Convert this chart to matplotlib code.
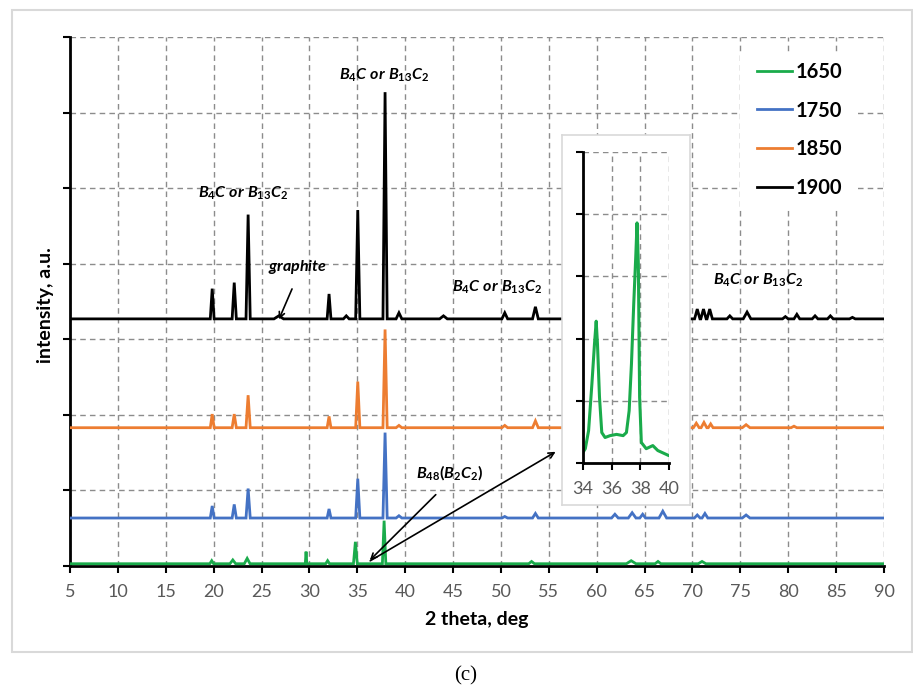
import matplotlib
matplotlib.use('Agg')
import matplotlib.pyplot as plt
from matplotlib.patches import Rectangle
from matplotlib.lines import Line2D

plt.rcParams['font.family'] = ['Lato', 'DejaVu Sans']
plt.rcParams['mathtext.fontset'] = 'custom'
plt.rcParams['mathtext.it'] = 'Lato:italic:bold'
plt.rcParams['mathtext.rm'] = 'Lato:bold'

# stacked XRD traces: baseline and peaks (2theta, height, half-width)
labels = ['1650', '1750', '1850', '1900']
colors = ['#1aab4b', '#4472c4', '#ed7d31', 'black']
baselines = [0.03, 0.635, 1.83, 3.27]

green_peaks = [(19.8, 0.04, 0.2), (22.0, 0.05, 0.3), (23.5, 0.07, 0.3), (29.65, 0.16, 0.08),
               (31.9, 0.04, 0.2), (34.8, 0.29, 0.2), (37.8, 0.57, 0.18), (53.2, 0.03, 0.3),
               (63.6, 0.04, 0.5), (66.4, 0.03, 0.3), (71.0, 0.03, 0.4)]
blue_peaks = [(19.85, 0.16, 0.2), (22.15, 0.18, 0.22), (23.6, 0.39, 0.22), (32.05, 0.12, 0.2),
              (35.05, 0.52, 0.22), (37.9, 1.13, 0.22), (39.35, 0.03, 0.3), (50.4, 0.02, 0.3),
              (53.6, 0.06, 0.3), (61.9, 0.05, 0.35), (63.7, 0.07, 0.4), (64.8, 0.05, 0.3),
              (66.9, 0.09, 0.4), (70.5, 0.04, 0.3), (71.3, 0.06, 0.3), (75.6, 0.04, 0.4)]
orange_peaks = [(19.85, 0.18, 0.2), (22.15, 0.18, 0.22), (23.6, 0.43, 0.22), (32.05, 0.15, 0.2),
                (35.05, 0.61, 0.22), (37.9, 1.30, 0.22), (39.35, 0.03, 0.3), (50.4, 0.03, 0.3),
                (53.6, 0.09, 0.3), (70.4, 0.06, 0.3), (71.2, 0.07, 0.3), (71.9, 0.05, 0.25),
                (75.6, 0.04, 0.4), (80.6, 0.02, 0.3)]
black_peaks = [(19.85, 0.40, 0.2), (22.15, 0.48, 0.22), (23.6, 1.38, 0.22), (26.8, 0.04, 0.5),
               (32.05, 0.33, 0.2), (33.85, 0.04, 0.3), (35.05, 1.44, 0.22), (37.9, 3.00, 0.22),
               (39.35, 0.08, 0.3), (44.0, 0.04, 0.4), (50.4, 0.08, 0.3), (53.6, 0.16, 0.3),
               (61.9, 0.05, 0.4), (63.7, 0.07, 0.4), (64.8, 0.05, 0.3), (66.9, 0.08, 0.4),
               (70.5, 0.13, 0.28), (71.15, 0.13, 0.28), (71.8, 0.13, 0.28), (73.9, 0.04, 0.3),
               (75.7, 0.09, 0.4), (79.7, 0.03, 0.3), (80.9, 0.06, 0.3), (82.8, 0.04, 0.3),
               (84.4, 0.04, 0.3), (86.7, 0.02, 0.3)]
all_peaks = [green_peaks, blue_peaks, orange_peaks, black_peaks]

# inset: 1650 sample, 34-40 deg
inset_x = [34.0, 34.16, 34.39, 34.62, 34.80, 34.92, 35.01, 35.15, 35.31, 35.54, 35.89, 36.34,
           36.80, 37.03, 37.22, 37.38, 37.54, 37.68, 37.77, 37.86, 37.95, 38.07, 38.41, 38.87,
           39.22, 39.98]
inset_y = [0.17, 0.23, 0.52, 1.27, 1.91, 2.28, 1.91, 1.06, 0.49, 0.41, 0.44, 0.46,
           0.44, 0.49, 0.84, 1.59, 2.56, 3.31, 3.86, 3.20, 1.06, 0.33, 0.23, 0.28,
           0.20, 0.12]


def trace(base, peaks, start=5, end=90):
    xs, ys = [start], [base]
    for c, h, w in sorted(peaks):
        xs += [c - w, c, c + w]
        ys += [base, base + h, base]
    xs.append(end)
    ys.append(base)
    return xs, ys


W, H = 913, 688
fig = plt.figure(figsize=(W / 100, H / 100), dpi=100)

def fx(px):
    return px / W

def fy(py):
    return 1 - py / H

# outer light frame
fig.add_artist(Rectangle((fx(12), fy(652)), fx(912) - fx(12), fy(10) - fy(652),
                         transform=fig.transFigure, fill=False, edgecolor='#d9d9d9', lw=1.5))

ax = fig.add_axes([fx(70), fy(566), fx(884) - fx(70), fy(37) - fy(566)])
grid_kw = dict(color='#8c8c8c', linestyle=(0, (4, 3)), linewidth=1)
for pk, b, col in zip(all_peaks, baselines, colors):
    xs, ys = trace(b, pk)
    ax.plot(xs, ys, color=col, lw=2, solid_joinstyle='miter', zorder=3)
ax.set_xlim(5, 90)
ax.set_ylim(0, 7)
ax.set_xticks(range(5, 91, 5))
ax.set_yticks(range(0, 8))
ax.set_yticklabels([])
ax.grid(True, **grid_kw)
ax.set_axisbelow(True)
for s in ['top', 'right']:
    ax.spines[s].set_visible(False)
for s in ['left', 'bottom']:
    ax.spines[s].set_linewidth(2)
ax.tick_params(direction='out', length=5, width=1.5, labelsize=13, labelcolor='#595959', pad=8)

# white patch behind legend
ax.add_patch(Rectangle((fx(740), fy(207)), fx(857) - fx(740), fy(55) - fy(207),
                       transform=fig.transFigure, facecolor='white', edgecolor='none', zorder=1.8))
handles = [Line2D([], [], color=c, lw=2) for c in colors]
fig.legend(handles, labels, loc='upper left', bbox_to_anchor=(fx(757), fy(62)),
           frameon=False, borderpad=0, borderaxespad=0, handlelength=1.75, handletextpad=0.15,
           labelspacing=0.92, prop={'weight': 'bold', 'size': 14.5})

# annotations
lbl = r'$\mathit{B_4C\ or\ B_{13}C_2}$'
ax.text(37.79, 6.49, lbl, ha='center', va='center', fontsize=11.5)
ax.text(23.07, 4.93, lbl, ha='center', va='center', fontsize=11.5)
ax.text(49.6, 3.69, lbl, ha='center', va='center', fontsize=11.5)
ax.text(76.85, 3.78, lbl, ha='center', va='center', fontsize=11.5)
ax.text(28.7, 3.95, r'$\mathit{graphite}$', ha='center', va='center', fontsize=11.5)
ax.annotate('', xy=(26.7, 3.23), xytext=(28.3, 3.70),
            arrowprops=dict(arrowstyle='->', color='black', lw=1.2))
ax.text(44.6, 1.23, r'$\mathit{B_{48}(B_2C_2)}$', ha='center', va='center', fontsize=11.5)
ax.annotate('', xy=(36.1, 0.05), xytext=(43.4, 0.97),
            arrowprops=dict(arrowstyle='->', color='black', lw=1.2))
ax.annotate('', xy=(55.96, 1.53), xytext=(36.1, 0.05),
            arrowprops=dict(arrowstyle='->', color='black', lw=1.2))

fig.text(fx(477), fy(620), '2 theta, deg', ha='center', va='center', fontsize=14, fontweight='bold')
fig.text(fx(45), fy(305), 'intensity, a.u.', ha='center', va='center', rotation=90,
         fontsize=14, fontweight='bold')
fig.text(fx(466), fy(676), '(c)', ha='center', va='center', fontsize=15, family='Liberation Serif')

# inset box and axes
box = fig.add_axes([fx(562), fy(505), fx(690) - fx(562), fy(135) - fy(505)])
box.set_xticks([])
box.set_yticks([])
for s in box.spines.values():
    s.set_edgecolor('#d9d9d9')
    s.set_linewidth(1.2)

ins = fig.add_axes([fx(583), fy(463), fx(669) - fx(583), fy(152) - fy(463)])
ins.plot(inset_x, inset_y, color=colors[0], lw=2.2)
ins.set_xlim(34, 40)
ins.set_ylim(0, 5)
ins.set_xticks([34, 36, 38, 40])
ins.set_yticks(range(0, 6))
ins.set_yticklabels([])
ins.grid(True, **grid_kw)
ins.set_axisbelow(True)
for s in ['top', 'right']:
    ins.spines[s].set_visible(False)
for s in ['left', 'bottom']:
    ins.spines[s].set_linewidth(2)
ins.tick_params(direction='out', length=5, width=1.5, labelsize=13, labelcolor='#595959', pad=8)

fig.savefig('out.png', dpi=100)
